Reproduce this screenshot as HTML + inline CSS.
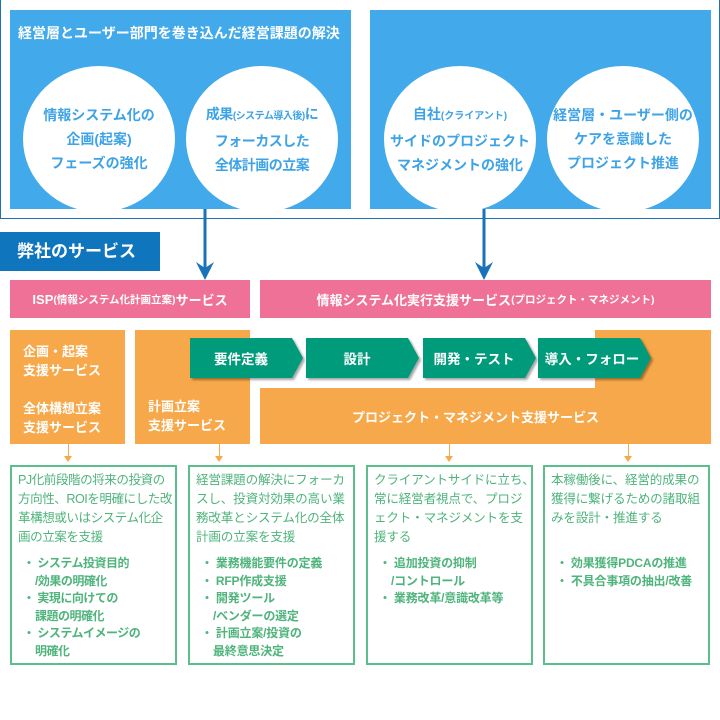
<!DOCTYPE html>
<html><head><meta charset="utf-8"><style>
*{margin:0;padding:0;box-sizing:border-box}
body{width:720px;height:720px;background:#fff;position:relative;overflow:hidden;font-family:"Liberation Sans","Noto Sans CJK JP",sans-serif;font-weight:bold}
.a{position:absolute}
.blue{background:#42a9ea}
.c{position:absolute;background:#fff;border-radius:50%;width:152px;height:146px;color:#3ea3e6;font-size:14px;line-height:24px;text-align:center;display:flex;align-items:center;justify-content:center;white-space:nowrap}
.c small{font-size:10px}
.pink{background:#f07198;color:#fff;font-size:13px;display:flex;align-items:center;justify-content:center}
.or{background:#f7a84a;color:#fff;font-size:13px}
.gb{position:absolute;top:465px;height:200px;border:2px solid #5bbf8a;color:#4fb47c;font-size:12.6px;font-weight:normal;line-height:19px;padding:4px 0 0 6px;overflow:hidden;white-space:nowrap;letter-spacing:-0.2px}
.gb ul{list-style:none;margin-top:8px;font-weight:bold;font-size:12px;line-height:17.5px}
.gb li{padding-left:17px;text-indent:-12px}
.ch{position:absolute;top:338px;height:40px;color:#fff;font-size:13.5px;display:flex;align-items:center;justify-content:center;filter:drop-shadow(2px 2px 1px rgba(0,0,0,.35))}
.ch svg{position:absolute;left:0;top:0}
.ch span{position:relative}
.sa{position:absolute;width:1px;background:#f7a84a}
.sa:after{content:"";position:absolute;left:-4px;bottom:-4px;border-left:4.5px solid transparent;border-right:4.5px solid transparent;border-top:6px solid #f7a84a}
</style></head><body>
<div class="a" style="left:0;top:0;width:720px;height:219px;border:1px solid #1f72b4;border-top:none"></div>
<div class="a blue" style="left:10px;top:10px;width:341px;height:199px"></div>
<div class="a blue" style="left:370px;top:10px;width:341px;height:199px"></div>
<div class="a" style="left:18px;top:23px;color:#fff;font-size:14px">経営層とユーザー部門を巻き込んだ経営課題の解決</div>
<div class="c" style="left:23px;top:66px"><div>情報システム化の<br>企画(起案)<br>フェーズの強化</div></div>
<div class="c" style="left:186px;top:66px"><div style="letter-spacing:-0.5px">成果<small>(システム導入後)</small>に<br>フォーカスした<br>全体計画の立案</div></div>
<div class="c" style="left:384px;top:66px"><div>自社<small>(クライアント)</small><br>サイドのプロジェクト<br>マネジメントの強化</div></div>
<div class="c" style="left:547px;top:66px"><div>経営層・ユーザー側の<br>ケアを意識した<br>プロジェクト推進</div></div>
<svg class="a" style="left:0;top:0" width="720" height="290">
<line x1="205" y1="209" x2="205" y2="275" stroke="#1a72b8" stroke-width="3"/>
<path d="M196 262 L205 280 L214 262 L205 268 Z" fill="#1a72b8"/>
<line x1="484" y1="209" x2="484" y2="275" stroke="#1a72b8" stroke-width="3"/>
<path d="M475 262 L484 280 L493 262 L484 268 Z" fill="#1a72b8"/>
</svg>
<div class="a" style="left:0;top:232px;width:160px;height:39px;background:#0f75bd;color:#fff;font-size:17px;line-height:39px;padding-left:17px">弊社のサービス</div>
<div class="a pink" style="left:10px;top:280px;width:240px;height:38px">ISP<span style="font-size:10.5px">(情報システム化計画立案)</span>サービス</div>
<div class="a pink" style="left:260px;top:280px;width:451px;height:38px">情報システム化実行支援サービス<span style="font-size:10.5px">(プロジェクト・マネジメント)</span></div>
<div class="a or" style="left:10px;top:330px;width:115px;height:114px;padding:12px 0 0 13px;line-height:19px">企画・起案<br>支援サービス<br><div style="height:19px"></div>全体構想立案<br>支援サービス</div>
<div class="a or" style="left:135px;top:330px;width:115px;height:114px;padding:67px 0 0 13px;line-height:19px">計画立案<br>支援サービス</div>
<div class="a or" style="left:595px;top:330px;width:116px;height:60px"></div>
<div class="a or" style="left:260px;top:388px;width:451px;height:56px;display:flex;align-items:center;justify-content:center;padding-right:20px">プロジェクト・マネジメント支援サービス</div>
<div class="ch" style="left:190px;width:114px"><svg width="114" height="40"><path d="M0 0H102L113 20L102 40H0Z" fill="#009b7b"/></svg><span style="margin-right:12px">要件定義</span></div>
<div class="ch" style="left:306px;width:114px"><svg width="114" height="40"><path d="M0 0H102L113 20L102 40H0Z" fill="#009b7b"/></svg><span style="margin-right:12px">設計</span></div>
<div class="ch" style="left:423px;width:114px"><svg width="114" height="40"><path d="M0 0H102L113 20L102 40H0Z" fill="#009b7b"/></svg><span style="margin-right:12px">開発・テスト</span></div>
<div class="ch" style="left:538px;width:114px"><svg width="114" height="40"><path d="M0 0H102L113 20L102 40H0Z" fill="#009b7b"/></svg><span style="margin-right:6px">導入・フォロー</span></div>
<div class="sa" style="left:68px;top:444px;height:14px"></div>
<div class="sa" style="left:219px;top:444px;height:14px"></div>
<div class="sa" style="left:449px;top:444px;height:14px"></div>
<div class="sa" style="left:628px;top:444px;height:14px"></div>
<div class="gb" style="left:10px;width:167px;letter-spacing:-0.5px">PJ化前段階の将来の投資の<br>方向性、ROIを明確にした改<br>革構想或いはシステム化企<br>画の立案を支援<ul><li>・ システム投資目的<br>/効果の明確化</li><li>・ 実現に向けての<br>課題の明確化</li><li>・ システムイメージの<br>明確化</li></ul></div>
<div class="gb" style="left:188px;width:167px">経営課題の解決にフォーカ<br>スし、投資対効果の高い業<br>務改革とシステム化の全体<br>計画の立案を支援<ul><li>・ 業務機能要件の定義</li><li>・ RFP作成支援</li><li>・ 開発ツール<br>/ベンダーの選定</li><li>・ 計画立案/投資の<br>最終意思決定</li></ul></div>
<div class="gb" style="left:366px;width:167px">クライアントサイドに立ち、<br>常に経営者視点で、プロジ<br>ェクト・マネジメントを支<br>援する<ul><li>・ 追加投資の抑制<br>/コントロール</li><li>・ 業務改革/意識改革等</li></ul></div>
<div class="gb" style="left:543px;width:167px">本稼働後に、経営的成果の<br>獲得に繋げるための諸取組<br>みを設計・推進する<ul style="margin-top:27px"><li>・ 効果獲得PDCAの推進</li><li>・ 不具合事項の抽出/改善</li></ul></div>
</body></html>
